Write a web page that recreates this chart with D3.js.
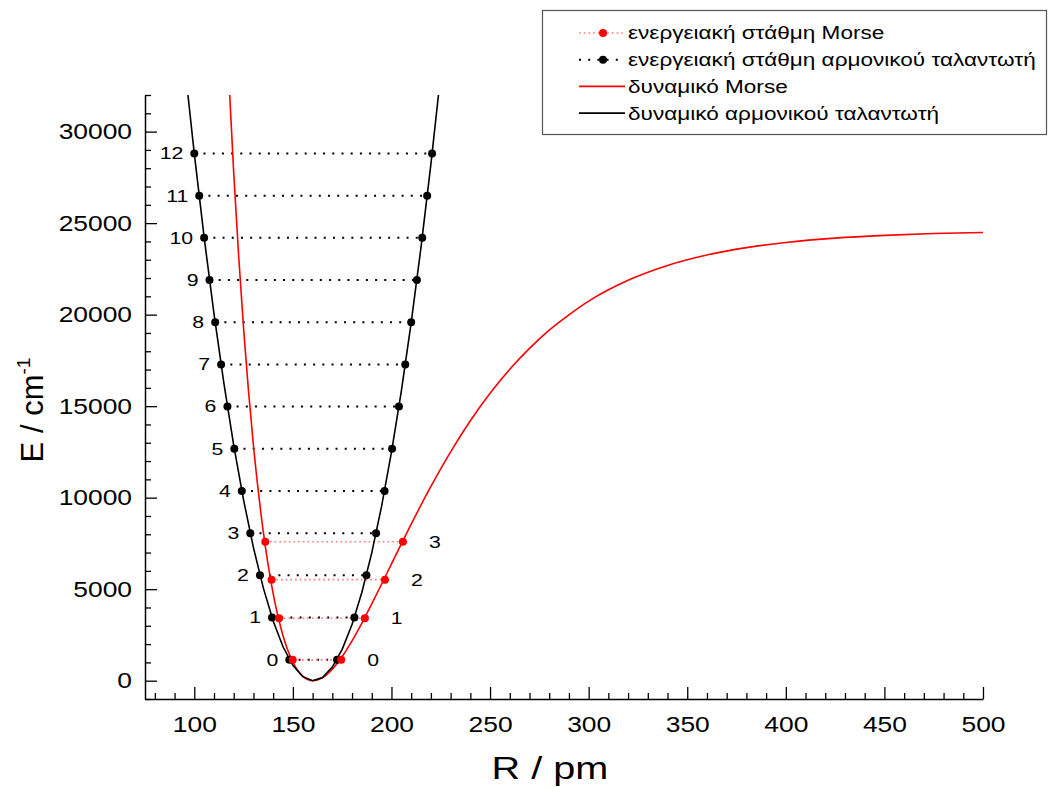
<!DOCTYPE html>
<html>
<head>
<meta charset="utf-8">
<script src="https://cdn.jsdelivr.net/npm/d3@7"></script>
<style>
  body { margin: 0; background: #fff; }
  text { font-family: "Liberation Sans", Arial, sans-serif; }
</style>
</head>
<body>
<div class="canvas"></div>
<script>
// harmonic oscillator potential (R in pm, E in cm-1)
const harmR = [95, 100, 105, 110, 115, 120, 125, 130, 135, 140, 145, 150, 155, 160,
    165, 170, 175, 180, 185, 190, 195, 200, 205, 210, 215, 220, 225]
const harmE = [33772, 28798, 24220, 20038, 16253, 12863, 9869, 7271, 5070, 3264, 1854, 840, 223, 1,
    175, 745, 1711, 3074, 4832, 6986, 9536, 12483, 15825, 19563, 23697, 28228, 33154]

// Morse potential
const morseR = [117, 120, 122.5, 125, 127.5, 130, 135, 140, 145, 150, 155, 160, 165, 170, 175,
    180, 185, 190, 195, 200, 205, 210, 220, 230, 240, 250, 260, 270, 280, 290, 300,
    320, 340, 360, 380, 400, 425, 450, 475, 500]
const morseE = [34011, 27731, 23203, 19252, 15818, 12851, 8129, 4754, 2457, 1014, 245, 1, 161, 628, 1322,
    2180, 3151, 4194, 5278, 6378, 7474, 8552, 10613, 12504, 14204, 15706, 17019, 18157, 19150, 19990, 20740,
    21880, 22690, 23260, 23660, 23940, 24180, 24330, 24430, 24490]

// energy levels
const harmLevelE = [1150, 3450, 5760, 8060, 10370, 12670, 14980, 17280, 19590, 21890, 24200, 26500, 28810]
const harmLevelLeft = [148.2, 139.4, 133.3, 128.4, 124.1, 120.3, 116.8, 113.6, 110.6, 107.7, 105.0, 102.5, 100.0]
const harmLevelRight = [172.4, 181.2, 187.3, 192.2, 196.5, 200.3, 203.8, 207.0, 210.0, 212.9, 215.6, 218.1, 220.6]

const morseLevelE = [1140, 3410, 5520, 7590]
const morseLevelLeft = [149.9, 143.0, 139.2, 136.0]
const morseLevelRight = [174.5, 186.5, 196.7, 205.8]

const xTicks = [100, 150, 200, 250, 300, 350, 400, 450, 500]
const yTicks = [0, 5000, 10000, 15000, 20000, 25000, 30000]

const legendLabels = [
    'ενεργειακή στάθμη Morse',
    'ενεργειακή στάθμη αρμονικού ταλαντωτή',
    'δυναμικό Morse',
    'δυναμικό αρμονικού ταλαντωτή'
]

const dims = { width: 1064, height: 787 }
const plot = { left: 145, right: 983, top: 95, bottom: 699 }

// the reference text is a bit wider than plain Arial
const stretch = (sel, sx) => sel.each(function() {
    const t = d3.select(this)
    const bx = +t.attr('x') || 0
    const by = +t.attr('y') || 0
    t.attr('transform', `translate(${bx},${by}) scale(${sx},1) translate(${-bx},${-by})`)
})

const svg = d3.select('.canvas')
    .append('svg')
    .attr('width', dims.width)
    .attr('height', dims.height)

const x = d3.scaleLinear().domain([75, 500]).range([plot.left, plot.right])
const y = d3.scaleLinear().domain([-1000, 32000]).range([plot.bottom, plot.top])

svg.append('clipPath').attr('id', 'clip')
    .append('rect')
    .attr('x', plot.left).attr('y', plot.top)
    .attr('width', plot.right - plot.left).attr('height', plot.bottom - plot.top)

// axes
const xMinor = d3.range(80, 501, 10).filter(v => v % 50 !== 0)
const yMinor = d3.range(-1000, 32001, 1000).filter(v => v % 5000 !== 0)

const xAxisG = svg.append('g').attr('transform', `translate(0, ${plot.bottom})`)
xAxisG.append('g')
    .call(d3.axisBottom(x).tickValues(xMinor).tickFormat('').tickSizeInner(-6).tickSizeOuter(0))
    .call(g => g.select('.domain').remove())
xAxisG.append('g')
    .call(d3.axisBottom(x).tickValues(xTicks).tickSizeInner(-12).tickSizeOuter(0).tickPadding(17))

const yAxisG = svg.append('g').attr('transform', `translate(${plot.left}, 0)`)
yAxisG.append('g')
    .call(d3.axisLeft(y).tickValues(yMinor).tickFormat('').tickSizeInner(-6).tickSizeOuter(0))
    .call(g => g.select('.domain').remove())
yAxisG.append('g')
    .call(d3.axisLeft(y).tickValues(yTicks).tickFormat(d3.format('d')).tickSizeInner(-12).tickSizeOuter(0).tickPadding(13))

svg.selectAll('.tick line').attr('stroke', '#000').attr('stroke-width', 1.3)
svg.selectAll('.domain').attr('stroke', '#000').attr('stroke-width', 1.5)
svg.selectAll('.tick text').attr('font-size', 22).attr('fill', '#000')
    .style('font-family', '"Liberation Sans", Arial, sans-serif')
    .call(stretch, 1.2)

// axis titles
svg.append('text')
    .attr('x', (plot.left + plot.right) / 2 - 14)
    .attr('y', 779)
    .attr('text-anchor', 'middle')
    .attr('font-size', 32)
    .text('R / pm')
    .call(stretch, 1.24)

const yTitle = svg.append('text')
    .attr('transform', `translate(43, 410) rotate(-90)`)
    .attr('text-anchor', 'middle')
    .attr('font-size', 31)
yTitle.append('tspan').text('E / cm')
yTitle.append('tspan').attr('font-size', 19).attr('dy', -13).text('-1')

const graph = svg.append('g').attr('clip-path', 'url(#clip)')

// level lines
graph.selectAll('line.harm')
    .data(harmLevelE)
    .enter().append('line')
    .attr('class', 'harm')
    .attr('x1', (d, i) => x(harmLevelLeft[i]))
    .attr('x2', (d, i) => x(harmLevelRight[i]))
    .attr('y1', d => y(d)).attr('y2', d => y(d))
    .attr('stroke', '#000').attr('stroke-width', 2)
    .attr('stroke-dasharray', '2,7.2')

graph.selectAll('line.morse')
    .data(morseLevelE)
    .enter().append('line')
    .attr('class', 'morse')
    .attr('x1', (d, i) => x(morseLevelLeft[i]))
    .attr('x2', (d, i) => x(morseLevelRight[i]))
    .attr('y1', d => y(d)).attr('y2', d => y(d))
    .attr('stroke', '#ff7a7a').attr('stroke-width', 1.6)
    .attr('stroke-dasharray', '1.6,3.1')

// potentials
const harmLine = d3.line()
    .x(d => x(d[0])).y(d => y(d[1]))

const morseLine = d3.line()
    .x(d => x(d[0])).y(d => y(d[1]))
    .curve(d3.curveMonotoneX)

graph.append('path')
    .datum(d3.zip(morseR, morseE))
    .attr('d', morseLine)
    .attr('fill', 'none').attr('stroke', '#ff0000').attr('stroke-width', 1.6)

graph.append('path')
    .datum(d3.zip(harmR, harmE))
    .attr('d', harmLine)
    .attr('fill', 'none').attr('stroke', '#000').attr('stroke-width', 1.6)

// level points
const harmPts = harmLevelE.flatMap((e, i) => [[harmLevelLeft[i], e], [harmLevelRight[i], e]])
const morsePts = morseLevelE.flatMap((e, i) => [[morseLevelLeft[i], e], [morseLevelRight[i], e]])

graph.selectAll('circle.harm')
    .data(harmPts)
    .enter().append('circle')
    .attr('class', 'harm')
    .attr('cx', d => x(d[0])).attr('cy', d => y(d[1]))
    .attr('r', 4).attr('fill', '#000')

graph.selectAll('circle.morse')
    .data(morsePts)
    .enter().append('circle')
    .attr('class', 'morse')
    .attr('cx', d => x(d[0])).attr('cy', d => y(d[1]))
    .attr('r', 4).attr('fill', '#ff0000')

// level numbers
svg.selectAll('text.harmnum')
    .data(harmLevelE)
    .enter().append('text')
    .attr('class', 'harmnum')
    .attr('x', (d, i) => x(harmLevelLeft[i]) - 11)
    .attr('y', d => y(d))
    .attr('dy', '0.35em')
    .attr('text-anchor', 'end')
    .attr('font-size', 17)
    .text((d, i) => i)
    .call(stretch, 1.25)

svg.selectAll('text.morsenum')
    .data(morseLevelE)
    .enter().append('text')
    .attr('class', 'morsenum')
    .attr('x', (d, i) => x(morseLevelRight[i]) + 26)
    .attr('y', d => y(d))
    .attr('dy', '0.35em')
    .attr('font-size', 17)
    .text((d, i) => i)
    .call(stretch, 1.25)

// legend
const legend = svg.append('g')
legend.append('rect')
    .attr('x', 542.5).attr('y', 10.5)
    .attr('width', 504).attr('height', 124)
    .attr('fill', '#fff').attr('stroke', '#555').attr('stroke-width', 1.2)

const rowY = d => 33 + d * 26.7
const sample = { x1: 579, x2: 625, mid: 603 }
const legendStyle = [
    { color: '#ff7a7a', dash: '1.6,3.1', dot: '#ff0000', width: 1.6 },
    { color: '#000', dash: '2,7.2', dot: '#000', width: 2 },
    { color: '#ff0000', dash: null, dot: null, width: 1.6 },
    { color: '#000', dash: null, dot: null, width: 1.6 }
]

legendLabels.forEach((label, i) => {
    const s = legendStyle[i]
    legend.append('line')
        .attr('x1', sample.x1).attr('x2', sample.x2)
        .attr('y1', rowY(i)).attr('y2', rowY(i))
        .attr('stroke', s.color).attr('stroke-width', s.width)
        .attr('stroke-dasharray', s.dash)
    if (s.dot) {
        legend.append('circle')
            .attr('cx', sample.mid).attr('cy', rowY(i))
            .attr('r', 4).attr('fill', s.dot)
    }
    legend.append('text')
        .attr('x', 628).attr('y', rowY(i))
        .attr('dy', '0.35em')
        .attr('font-size', 18.5)
        .text(label)
        .call(stretch, 1.22)
})
</script>
</body>
</html>
